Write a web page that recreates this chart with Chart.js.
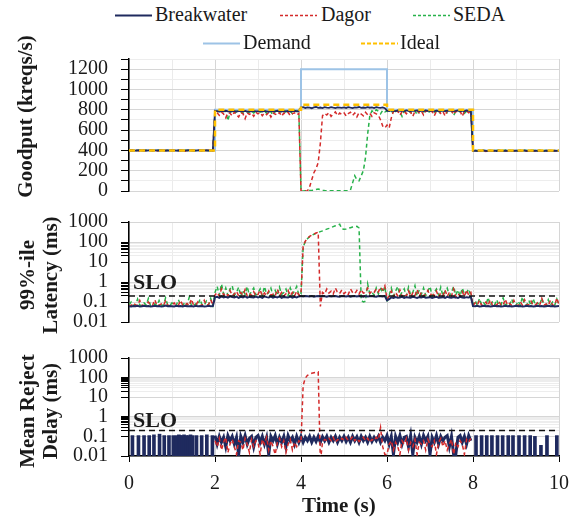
<!DOCTYPE html>
<html>
<head>
<meta charset="utf-8">
<script src="https://cdn.jsdelivr.net/npm/chart.js@4.4.1/dist/chart.umd.min.js"></script>
<style>
  body { margin: 0; background: #fff; }
  #wrap { position: relative; width: 579px; height: 518px; font-family: "Liberation Serif", "Times New Roman", serif; color: #1a1a1a; }
  canvas { position: absolute; left: 0; }
  .lg { position: absolute; font-size: 20px; line-height: 20px; white-space: nowrap; z-index: 2; }
  .sw { position: absolute; z-index: 2; }
  .yt { position: absolute; font-weight: bold; font-size: 21px; line-height: 23px; white-space: nowrap; text-align: center; transform: rotate(-90deg); z-index: 2; }
  .slo { position: absolute; font-weight: bold; font-size: 22px; line-height: 22px; z-index: 2; }
  .xt { position: absolute; font-weight: bold; font-size: 21px; line-height: 22px; z-index: 2; }
</style>
</head>
<body>
<div id="wrap">
  <!-- legend -->
  <svg class="sw" style="left:115px;top:13px" width="37" height="5"><line x1="0" y1="2.5" x2="37" y2="2.5" stroke="#1F2A5E" stroke-width="2"/></svg>
  <div class="lg" style="left:155px;top:4px">Breakwater</div>
  <svg class="sw" style="left:280px;top:13px" width="37" height="5"><line x1="0" y1="2.5" x2="37" y2="2.5" stroke="#D42A2A" stroke-width="1.5" stroke-dasharray="3 2"/></svg>
  <div class="lg" style="left:321px;top:4px">Dagor</div>
  <svg class="sw" style="left:413px;top:13px" width="37" height="5"><line x1="0" y1="2.5" x2="37" y2="2.5" stroke="#27B24A" stroke-width="1.5" stroke-dasharray="3 2"/></svg>
  <div class="lg" style="left:453px;top:4px">SEDA</div>
  <svg class="sw" style="left:203px;top:41px" width="37" height="5"><line x1="0" y1="2.5" x2="37" y2="2.5" stroke="#9DC3E6" stroke-width="2"/></svg>
  <div class="lg" style="left:243px;top:32px">Demand</div>
  <svg class="sw" style="left:361px;top:41px" width="37" height="5"><line x1="0" y1="2.5" x2="37" y2="2.5" stroke="#FFC000" stroke-width="2" stroke-dasharray="4 2"/></svg>
  <div class="lg" style="left:400px;top:32px">Ideal</div>

  <!-- axis titles -->
  <div class="yt" style="left:-75px;top:105px;width:200px;height:23px">Goodput (kreqs/s)</div>
  <div class="yt" style="left:-61px;top:252px;width:200px;height:46px">99%-ile<br>Latency (ms)</div>
  <div class="yt" style="left:-61px;top:388px;width:200px;height:46px">Mean Reject<br>Delay (ms)</div>
  <div class="slo" style="left:133px;top:271px">SLO</div>
  <div class="slo" style="left:133px;top:409px">SLO</div>
  <div class="xt" style="left:302px;top:494px">Time (s)</div>

  <canvas id="goodput" width="579" height="182" style="top:34px"></canvas>
  <canvas id="latency" width="579" height="150" style="top:197px"></canvas>
  <canvas id="reject" width="579" height="185" style="top:333px"></canvas>
</div>
<script>
// ---- data ----
// time axis for the sampled series: 0 .. 10 s every 0.05 s
const time = Array.from({ length: 201 }, (_, i) => Math.round(i * 5) / 100);
// reject-delay series only exist between 2 s and 8 s
const rejectTime = Array.from({ length: 120 }, (_, i) => Math.round(200 + i * 5) / 100);

// step profiles
const stepTime = [0, 2, 2, 4, 4, 6, 6, 8, 8, 10];
const demandGoodput = [400, 400, 800, 800, 1200, 1200, 800, 800, 400, 400];
const idealGoodput = [400, 400, 800, 800, 850, 850, 800, 800, 400, 400];

const bwGoodput = [
  400,399,401,398,400,402,399,400,397,401,400,398,401,400,399,402,400,398,401,399,
  400,401,398,400,399,401,397,400,402,399,400,398,401,400,399,401,400,398,400,399,
  790,786,782,788,784,790,785,781,787,789,783,786,790,784,788,782,787,785,789,784,
  786,790,783,788,785,781,789,786,784,790,787,782,788,785,789,783,786,790,784,788,
  822,826,818,824,820,815,823,827,819,822,817,825,821,818,826,820,816,824,822,819,
  823,818,825,820,816,824,821,827,819,822,818,826,820,823,817,825,821,819,824,815,
  792,788,794,790,786,793,789,791,787,794,790,786,792,789,793,788,791,787,794,790,
  789,793,787,791,788,794,790,786,792,789,793,787,790,794,788,791,786,793,789,792,
  396,398,394,397,395,399,396,393,398,395,397,394,399,396,393,398,395,397,394,396,
  398,394,397,395,399,396,393,398,395,397,394,398,396,393,397,395,398,394,396,395,
  396
];
const dagorGoodput = [
  400,398,401,399,400,392,401,400,398,400,401,399,400,395,400,401,398,400,399,401,
  400,399,401,398,400,401,393,400,399,401,400,398,401,400,396,400,399,401,400,398,
  780,770,745,776,758,720,772,765,740,778,750,730,774,762,712,770,755,768,735,776,
  760,774,742,768,752,775,728,770,758,746,772,736,768,757,774,742,762,770,748,766,
  0,0,0,0,40,110,180,220,280,470,740,765,748,772,735,760,778,742,768,755,
  770,738,762,776,745,768,730,772,758,740,775,750,766,735,770,760,745,700,640,620,
  650,620,720,785,770,790,745,782,788,760,790,778,735,786,790,770,788,748,784,790,
  775,788,740,786,790,765,784,738,789,780,790,752,786,778,790,735,785,789,770,784,
  396,398,393,397,395,399,390,396,398,394,397,395,399,392,396,398,394,397,395,398,
  396,393,398,395,397,391,396,398,394,397,395,399,392,396,398,394,397,395,398,396,
  397
];
const sedaGoodput = [
  400,401,399,400,398,401,400,399,402,400,398,401,399,400,401,397,400,399,401,400,
  399,400,401,398,400,399,401,400,398,401,399,400,401,399,400,398,401,400,399,400,
  785,778,790,770,782,788,692,775,786,760,784,790,778,765,787,780,772,789,768,783,
  788,776,784,790,765,786,779,745,787,782,774,789,770,785,780,790,762,784,788,776,
  0,0,2,3,4,6,8,15,20,12,6,4,3,2,3,2,3,2,3,2,
  3,2,3,10,80,150,110,100,150,200,330,560,740,790,775,800,785,760,795,780,
  788,776,792,760,785,790,778,735,787,782,790,770,786,792,750,784,789,777,790,765,
  786,792,774,789,760,788,781,790,770,787,792,745,785,790,778,789,765,786,791,780,
  398,400,397,399,401,398,396,400,399,397,401,398,400,396,399,401,397,400,398,399,
  400,397,399,401,398,400,396,399,401,397,400,398,399,401,397,400,398,396,399,400,
  398
];

const bwLatency = [
  0.062,0.060,0.063,0.061,0.064,0.060,0.062,0.065,0.061,0.063,0.060,0.062,0.064,0.061,0.063,0.060,0.062,0.066,0.061,0.063,
  0.062,0.060,0.064,0.061,0.063,0.060,0.065,0.062,0.061,0.063,0.060,0.064,0.062,0.061,0.063,0.060,0.062,0.065,0.061,0.062,
  0.17,0.18,0.16,0.19,0.17,0.18,0.165,0.19,0.175,0.17,0.185,0.16,0.18,0.17,0.19,0.165,0.18,0.175,0.17,0.185,
  0.17,0.18,0.16,0.19,0.175,0.17,0.185,0.165,0.18,0.17,0.19,0.16,0.18,0.175,0.17,0.185,0.165,0.18,0.17,0.19,
  0.2,0.19,0.2,0.195,0.19,0.2,0.185,0.195,0.2,0.19,0.2,0.195,0.185,0.2,0.19,0.195,0.2,0.19,0.185,0.2,
  0.195,0.19,0.2,0.185,0.195,0.2,0.19,0.2,0.195,0.185,0.2,0.19,0.195,0.2,0.19,0.185,0.2,0.195,0.19,0.2,
  0.12,0.14,0.17,0.16,0.175,0.165,0.17,0.18,0.16,0.175,0.17,0.165,0.18,0.17,0.16,0.175,0.17,0.18,0.165,0.17,
  0.175,0.16,0.17,0.18,0.165,0.17,0.175,0.16,0.18,0.17,0.165,0.175,0.17,0.16,0.18,0.17,0.165,0.175,0.17,0.18,
  0.063,0.061,0.064,0.060,0.062,0.065,0.061,0.063,0.060,0.062,0.064,0.061,0.063,0.060,0.062,0.065,0.061,0.063,0.060,0.062,
  0.064,0.061,0.063,0.060,0.062,0.065,0.061,0.063,0.060,0.062,0.064,0.061,0.063,0.060,0.062,0.064,0.061,0.063,0.060,0.062,
  0.063
];
const dagorLatency = [
  0.07,0.065,0.09,0.07,0.068,0.12,0.07,0.066,0.075,0.1,0.068,0.07,0.13,0.066,0.07,0.08,0.067,0.11,0.07,0.065,
  0.07,0.09,0.066,0.07,0.12,0.068,0.07,0.085,0.066,0.14,0.07,0.068,0.1,0.066,0.07,0.12,0.068,0.075,0.13,0.07,
  0.22,0.3,0.2,0.45,0.22,0.28,0.2,0.38,0.21,0.25,0.35,0.2,0.3,0.22,0.42,0.2,0.27,0.21,0.33,0.2,
  0.24,0.4,0.2,0.28,0.21,0.36,0.22,0.25,0.2,0.44,0.21,0.3,0.2,0.26,0.38,0.21,0.3,0.2,0.35,0.22,
  0.25,60,110,150,190,220,250,280,310,0.06,0.3,0.25,0.45,0.28,0.35,0.25,0.5,0.3,0.27,0.4,
  0.26,0.33,0.24,0.45,0.3,0.26,0.38,0.25,0.42,0.28,0.3,0.5,0.27,0.35,0.3,0.45,0.32,0.55,0.4,0.65,
  0.14,0.2,0.35,0.18,0.3,0.2,0.4,0.19,0.25,0.2,0.36,0.18,0.28,0.21,0.42,0.19,0.3,0.2,0.25,0.38,
  0.19,0.3,0.2,0.35,0.18,0.28,0.21,0.4,0.19,0.3,0.2,0.45,0.18,0.26,0.2,0.33,0.19,0.4,0.22,0.3,
  0.068,0.09,0.07,0.12,0.068,0.075,0.1,0.066,0.13,0.07,0.08,0.068,0.11,0.07,0.066,0.14,0.07,0.085,0.068,0.12,
  0.07,0.066,0.1,0.07,0.13,0.068,0.075,0.11,0.066,0.07,0.09,0.068,0.15,0.07,0.08,0.066,0.12,0.07,0.068,0.16,
  0.07
];
const sedaLatency = [
  0.07,0.1,0.068,0.07,0.14,0.07,0.066,0.09,0.07,0.15,0.068,0.07,0.08,0.066,0.12,0.07,0.068,0.16,0.07,0.066,
  0.09,0.07,0.068,0.13,0.07,0.066,0.1,0.07,0.17,0.068,0.07,0.08,0.066,0.14,0.07,0.068,0.11,0.07,0.15,0.068,
  0.3,0.6,0.22,0.8,0.25,0.5,0.21,0.45,0.65,0.22,0.3,0.55,0.2,0.4,0.24,0.6,0.21,0.35,0.5,0.22,
  0.28,0.45,0.21,0.6,0.24,0.3,0.5,0.2,0.38,0.22,0.55,0.24,0.3,0.45,0.21,0.5,0.25,0.35,0.6,0.22,
  0.25,55,105,145,185,215,245,270,300,330,360,400,440,480,530,590,650,710,780,450,
  430,440,480,520,560,590,610,500,0.12,0.1,0.11,0.8,0.25,0.3,0.22,0.5,0.25,0.45,0.3,0.6,
  0.1,0.22,0.5,0.2,0.35,0.6,0.21,0.3,0.45,0.2,0.55,0.22,0.3,0.65,0.2,0.4,0.24,0.5,0.21,0.35,
  0.6,0.2,0.3,0.45,0.22,0.55,0.2,0.35,0.5,0.21,0.3,0.6,0.22,0.4,0.2,0.5,0.25,0.3,0.45,0.2,
  0.07,0.12,0.068,0.15,0.07,0.09,0.066,0.17,0.07,0.1,0.068,0.13,0.07,0.066,0.16,0.07,0.08,0.068,0.14,0.07,
  0.066,0.11,0.07,0.18,0.068,0.07,0.12,0.066,0.15,0.07,0.09,0.068,0.16,0.07,0.066,0.13,0.07,0.1,0.068,0.14,
  0.07
];

const bwReject = [
  0.11,0.04,0.1,0.05,0.09,0.03,0.11,0.06,0.1,0.04,0.09,0.012,0.1,0.05,0.11,0.04,0.08,0.1,0.03,0.09,
  0.11,0.05,0.1,0.04,0.09,0.012,0.1,0.06,0.11,0.04,0.09,0.05,0.1,0.03,0.11,0.06,0.09,0.04,0.1,0.05,
  0.1,0.05,0.09,0.06,0.1,0.05,0.09,0.055,0.1,0.05,0.095,0.06,0.1,0.05,0.09,0.06,0.1,0.05,0.09,0.06,
  0.1,0.055,0.09,0.05,0.1,0.06,0.095,0.05,0.1,0.06,0.09,0.05,0.1,0.055,0.09,0.06,0.1,0.05,0.09,0.06,
  0.11,0.04,0.1,0.012,0.1,0.05,0.11,0.04,0.09,0.1,0.03,0.11,0.012,0.09,0.05,0.1,0.04,0.11,0.06,0.1,
  0.012,0.09,0.05,0.11,0.04,0.1,0.06,0.09,0.11,0.03,0.1,0.012,0.012,0.09,0.11,0.05,0.1,0.04,0.11,0.06
];
const dagorReject = [
  0.06,0.03,0.08,0.02,0.05,0.09,0.015,0.04,0.07,0.03,0.012,0.06,0.05,0.02,0.08,0.04,0.015,0.07,0.03,0.06,
  0.05,0.012,0.07,0.04,0.09,0.02,0.06,0.03,0.012,0.05,0.08,0.03,0.06,0.015,0.04,0.07,0.02,0.05,0.03,0.06,
  0.05,40,95,130,150,165,175,185,195,0.005,0.05,0.07,0.06,0.08,0.06,0.09,0.05,0.07,0.06,0.08,
  0.065,0.09,0.06,0.07,0.1,0.06,0.08,0.055,0.07,0.09,0.06,0.08,0.05,0.07,0.06,0.09,0.07,0.28,0.03,0.012,
  0.012,0.04,0.06,0.02,0.05,0.03,0.012,0.06,0.04,0.08,0.02,0.05,0.03,0.07,0.012,0.05,0.04,0.06,0.02,0.07,
  0.04,0.03,0.06,0.012,0.05,0.08,0.03,0.06,0.02,0.04,0.07,0.012,0.05,0.03,0.06,0.04,0.012,0.07,0.05,0.08
];
// Breakwater reject pulses while under-loaded (0-2 s and 8-10 s)
const pulseTime = [0.08,0.22,0.35,0.47,0.58,0.71,0.82,0.93,1.03,1.11,1.16,1.19,1.23,1.28,1.33,1.38,1.43,1.48,1.57,1.69,1.81,1.94,
  8.07,8.2,8.32,8.44,8.57,8.69,8.82,8.93,9.07,9.2,9.33,9.44,9.58,9.72,9.95];
const pulseDelay = [0.11,0.11,0.11,0.11,0.12,0.13,0.11,0.11,0.11,0.11,0.12,0.11,0.11,0.12,0.11,0.11,0.12,0.11,0.11,0.11,0.12,0.11,
  0.11,0.11,0.11,0.11,0.11,0.11,0.11,0.11,0.11,0.11,0.11,0.1,0.035,0.11,0.11];

const sloMs = 0.2;
const sloTime = [0, 10];
const logDecades = [0.01, 0.1, 1, 10, 100, 1000];
const logMinorDecades = [0.1, 10];   // decades that carry minor ticks

// ---- styling ----
const SERIF = '"Liberation Serif", "Times New Roman", serif';
const C_BW = '#1F2A5E', C_DG = '#D42A2A', C_SD = '#27B24A', C_DEM = '#9DC3E6', C_IDEAL = '#FFC000';
const TICK_FONT = { family: SERIF, size: 20 };

function pts(xs, ys) {
  return ys.map((y, i) => ({ x: xs[i], y: y }));
}

function xScale(showLabels) {
  return {
    type: 'linear', min: 0, max: 10, offset: false,
    ticks: {
      display: showLabels, stepSize: 1, autoSkip: false, maxRotation: 0,
      font: TICK_FONT, color: '#1a1a1a', padding: 10,
      callback: v => (v % 2 === 0 ? String(v) : '')
    },
    grid: {
      offset: false,
      color: ctx => (ctx.tick && ctx.tick.value % 2 === 0 ? '#D6D6D6' : '#EBEBEB'),
      drawTicks: showLabels, tickLength: 6,
      tickColor: ctx => (ctx.tick && ctx.tick.value % 2 === 0 ? '#000' : 'rgba(0,0,0,0)')
    },
    border: { display: showLabels, color: '#000', width: 1.5 },
    afterFit: s => { s.height = showLabels ? 62 : 0; }
  };
}

function isDecade(v) {
  return logDecades.some(d => Math.abs(d - v) < d * 1e-6);
}

function logScale() {
  const ticks = logDecades.slice();
  logMinorDecades.forEach(d => { for (let k = 2; k <= 9; k++) ticks.push(d * k); });
  return {
    type: 'logarithmic', min: 0.01, max: 1000,
    afterBuildTicks: s => { s.ticks = ticks.slice().sort((a, b) => a - b).map(v => ({ value: v })); },
    ticks: {
      autoSkip: false, font: TICK_FONT, color: '#1a1a1a', padding: 13,
      callback: v => (isDecade(v) ? String(v) : '')
    },
    grid: {
      color: ctx => (isDecade(ctx.tick.value) ? '#D6D6D6' : '#EDEDED'),
      tickLength: 8, tickColor: '#000'
    },
    border: { color: '#000', width: 1.5 },
    afterFit: s => { s.width = 129; }
  };
}

// y tick padding (label half height + ticks.padding) already sets the top/bottom gap
function options(yScale, showX) {
  return {
    responsive: false, animation: false, devicePixelRatio: 1,
    layout: { padding: { top: 0, bottom: 0, left: 0, right: 20 } },
    plugins: { legend: { display: false }, tooltip: { enabled: false } },
    elements: { point: { radius: 0 }, line: { tension: 0 } },
    scales: { x: xScale(showX), y: yScale }
  };
}

// ---- goodput panel ----
new Chart(document.getElementById('goodput'), {
  type: 'line',
  data: {
    datasets: [
      { label: 'Ideal', data: pts(stepTime, idealGoodput), borderColor: C_IDEAL, borderWidth: 2.5, borderDash: [6, 4] },
      { label: 'Breakwater', data: pts(time, bwGoodput), borderColor: C_BW, borderWidth: 1.8 },
      { label: 'Dagor', data: pts(time, dagorGoodput), borderColor: C_DG, borderWidth: 1.5, borderDash: [4, 3] },
      { label: 'SEDA', data: pts(time, sedaGoodput), borderColor: C_SD, borderWidth: 1.5, borderDash: [4, 3] },
      { label: 'Demand', data: pts(stepTime, demandGoodput), borderColor: C_DEM, borderWidth: 2 }
    ]
  },
  options: options({
    type: 'linear', min: 0, max: 1300,
    ticks: { stepSize: 100, autoSkip: false, font: TICK_FONT, color: '#1a1a1a', padding: 13,
      callback: v => (v % 200 === 0 ? String(v) : '') },
    grid: { color: ctx => (ctx.tick.value % 200 === 0 ? '#D6D6D6' : '#EDEDED'), tickLength: 8, tickColor: '#000' },
    border: { color: '#000', width: 1.5 },
    afterFit: s => { s.width = 129; }
  }, false)
});

// ---- latency panel ----
new Chart(document.getElementById('latency'), {
  type: 'line',
  data: {
    datasets: [
      { label: 'SLO', data: pts(sloTime, [sloMs, sloMs]), borderColor: '#111', borderWidth: 1.5, borderDash: [6, 4] },
      { label: 'Breakwater', data: pts(time, bwLatency), borderColor: C_BW, borderWidth: 2 },
      { label: 'Dagor', data: pts(time, dagorLatency), borderColor: C_DG, borderWidth: 1.5, borderDash: [4, 3] },
      { label: 'SEDA', data: pts(time, sedaLatency), borderColor: C_SD, borderWidth: 1.5, borderDash: [4, 3] }
    ]
  },
  options: options(logScale(), false)
});

// ---- reject delay panel ----
new Chart(document.getElementById('reject'), {
  type: 'line',
  data: {
    datasets: [
      { label: 'SLO', data: pts(sloTime, [sloMs, sloMs]), borderColor: '#111', borderWidth: 1.5, borderDash: [6, 4] },
      { label: 'Dagor', data: pts(rejectTime, dagorReject), borderColor: C_DG, borderWidth: 1.5, borderDash: [4, 3] },
      { label: 'Breakwater', data: pts(rejectTime, bwReject), borderColor: C_BW, borderWidth: 3 },
      { type: 'bar', label: 'Breakwater pulses', data: pulseTime.map((t, i) => ({ x: t, y: [0.01, pulseDelay[i]] })),
        backgroundColor: C_BW, borderWidth: 0, barThickness: 3 }
    ]
  },
  options: options(logScale(), true)
});
</script>
</body>
</html>
